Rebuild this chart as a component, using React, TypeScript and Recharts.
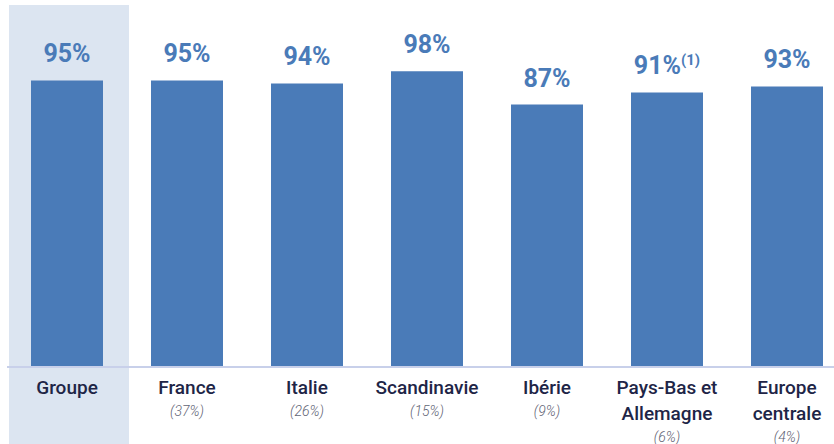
import { BarChart, Bar, XAxis, YAxis, LabelList, ReferenceArea } from 'recharts';

const CATEGORIES = ['Groupe', 'France', 'Italie', 'Scandinavie', 'Ibérie', 'Pays-Bas et Allemagne', 'Europe centrale'];
const VALUES = [95, 95, 94, 98, 87, 91, 93];
const NAME_LINES = [['Groupe'], ['France'], ['Italie'], ['Scandinavie'], ['Ibérie'], ['Pays-Bas et', 'Allemagne'], ['Europe', 'centrale']];
const SHARES = ['', '(37%)', '(26%)', '(15%)', '(9%)', '(6%)', '(4%)'];
const NOTES = ['', '', '', '', '', '(1)', ''];

const data = CATEGORIES.map((name, i) => ({ name, value: VALUES[i], note: NOTES[i] }));

const BLUE = '#4a7bb8';
const NAVY = '#1e2547';
const FONT = 'Roboto, "Noto Sans", sans-serif';

const Tick = (props: any) => {
  const { x, y, payload } = props;
  const i = payload.index;
  const lines = NAME_LINES[i];
  return (
    <g>
      {lines.map((l, k) => (
        <text key={k} x={x} y={y + 17 + k * 26} textAnchor="middle" fill={NAVY} fontFamily={FONT} fontWeight={500} fontSize={19}>
          {l}
        </text>
      ))}
      {SHARES[i] && (
        <text x={x} y={y + 39 + (lines.length - 1) * 26} textAnchor="middle" fill="#5f6475" fontFamily={FONT} fontStyle="italic" fontWeight={300} fontSize={14}>
          {SHARES[i]}
        </text>
      )}
    </g>
  );
};

const ValueLabel = (props: any) => {
  const { x, y, width, value, index } = props;
  const note = NOTES[index];
  return (
    <text x={x + width / 2} y={y - 18} textAnchor="middle" fill={BLUE} fontFamily={FONT} fontWeight={700} fontSize={25}>
      {value}%
      {note && (
        <tspan dy={-9} fontSize={15} fontWeight={700}>{note}</tspan>
      )}
    </text>
  );
};

const Highlight = (props: any) => {
  const { x, y, width, height } = props;
  return <rect x={x + 2} y={y} width={width} height={height + 80} fill="#dce5f1" />;
};

export default function App() {
  return (
    <div style={{ position: 'absolute', left: 0, top: 0, width: 834, height: 444, overflow: 'hidden', background: '#fff' }}>
      <BarChart
        width={850}
        height={444}
        data={data}
        margin={{ top: 5, right: 3, bottom: 0, left: 7 }}
        barCategoryGap={48}
      >
        <ReferenceArea x1="Groupe" x2="Groupe" y1={0} y2={120} shape={Highlight} fillOpacity={1} />
        <XAxis
          dataKey="name"
          height={77}
          axisLine={{ stroke: '#c8d0ea', strokeWidth: 2 }}
          tickLine={false}
          tick={Tick}
          interval={0}
          tickMargin={4}
        />
        <YAxis hide domain={[0, 120]} />
        <Bar dataKey="value" fill={BLUE} barSize={72} isAnimationActive={false}>
          <LabelList dataKey="value" content={ValueLabel} />
        </Bar>
      </BarChart>
    </div>
  );
}
